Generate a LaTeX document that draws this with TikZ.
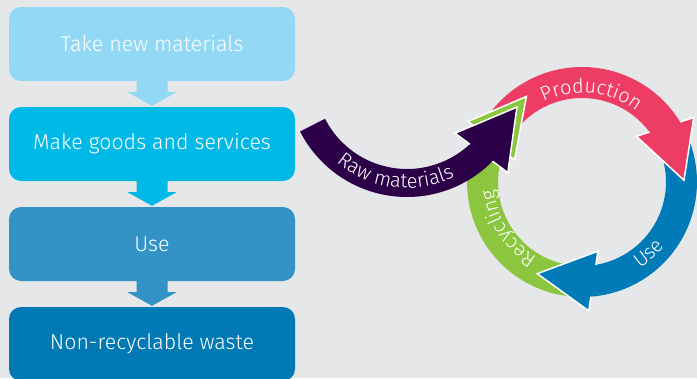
\documentclass[tikz,border=0pt]{standalone}
\usepackage{fontspec}
\setmainfont{Fira Sans}[UprightFont={* Light}]
\usetikzlibrary{calc,decorations.text}

\definecolor{bggrey}{RGB}{230,231,232}
\definecolor{takeblue}{RGB}{147,216,244}
\definecolor{makeblue}{RGB}{0,185,231}
\definecolor{useblue}{RGB}{51,147,198}
\definecolor{wasteblue}{RGB}{0,121,180}
\definecolor{prodred}{RGB}{238,61,100}
\definecolor{cycleblue}{RGB}{0,123,183}
\definecolor{recgreen}{RGB}{140,198,63}
\definecolor{rawpurple}{RGB}{44,0,73}

\tikzset{
  stepbox/.style={fill=#1, rounded corners=12pt, minimum width=286pt, minimum height=74pt,
    text=white, font=\fontsize{21.4}{25}\selectfont, inner sep=0pt},
  ringtext/.style={decorate, decoration={text along path, text align=center,
    text color=white, text={|\fontsize{20}{20}\selectfont|#1}}}
}

% down arrow between two boxes
\newcommand{\flowarrow}[3]{%
  \fill[#1] ($(#2.south)+(-15.5,-1)$) -- ($(#2.south)+(-15.5,11)$) -- ($(#2.south)+(-24.5,11)$)
    -- ($(#3.north)+(0,-1)$) -- ($(#2.south)+(24.5,11)$) -- ($(#2.south)+(15.5,11)$)
    -- ($(#2.south)+(15.5,-1)$) -- cycle;}
% band of the cycle
\newcommand{\ringbody}[3]{%
  \fill[#1] (#2:115) arc[start angle=#2, end angle=#3, radius=115]
    -- (#3:84) arc[start angle=#3, end angle=#2, radius=84] -- cycle;}
% head of the cycle arrows, tip angle #2
\newcommand{\ringhead}[2]{%
  \fill[#1] (#2-39:71) -- (#2-29:129) -- (#2:102) -- cycle;
  \draw[white, line width=1.5pt] ($(#2-39:71)!0.763!(#2-29:129)$) -- (#2-29:129)
    -- (#2:102) -- (#2-39:71) -- ($(#2-39:71)!0.23!(#2-29:129)$);}

\begin{document}
\begin{tikzpicture}[x=1pt,y=1pt,yscale=-1]
\fill[bggrey] (0,0) rectangle (697,378);
\useasboundingbox (0,0) rectangle (697,378);

% linear steps
\node[stepbox=takeblue] (take) at (152,44) {Take new materials};
\node[stepbox=makeblue] (make) at (152,144) {Make goods and services};
\node[stepbox=useblue] (use) at (152,244) {Use};
\node[stepbox=wasteblue] (waste) at (152,344) {Non-recyclable waste};

\flowarrow{takeblue}{take}{make}
\flowarrow{makeblue}{make}{use}
\flowarrow{useblue}{use}{waste}

% cycle
\begin{scope}[shift={(582,182)}]
\ringbody{prodred}{215}{330}
\ringbody{cycleblue}{338}{447}
\ringbody{recgreen}{95}{208}
\ringhead{prodred}{359}
\ringhead{cycleblue}{116}
\ringhead{recgreen}{237}
\path[ringtext={Production}] (216:89) arc[start angle=216, end angle=336, radius=89];
\path[ringtext={Use}] (87:104) arc[start angle=87, end angle=7, radius=104];
\path[ringtext={Recycling}] (98:88) arc[start angle=98, end angle=198, radius=88];
\end{scope}

% raw materials
\begin{scope}[shift={(407,77)}]
\fill[rawpurple] (153:120) arc[start angle=153, end angle=43, radius=120]
  -- (43:92) arc[start angle=43, end angle=153, radius=92] -- cycle;
\fill[rawpurple] (49.4:74) -- (43.5:139) -- (15.3:114) -- cycle;
\draw[white, line width=1.5pt] ($(49.4:74)!0.709!(43.5:139)$) -- (43.5:139)
  -- (15.3:114) -- (49.4:74) -- ($(49.4:74)!0.279!(43.5:139)$);
\path[ringtext={Raw materials}] (152:111) arc[start angle=152, end angle=42, radius=111];
\end{scope}
\end{tikzpicture}
\end{document}
